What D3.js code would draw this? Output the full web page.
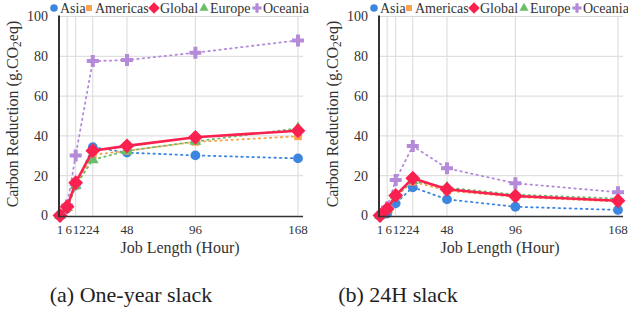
<!DOCTYPE html>
<html><head><meta charset="utf-8"><script src="https://cdn.jsdelivr.net/npm/d3@7"></script></head>
<body style="margin:0">
<div id="c"></div>
<script>
// Job lengths (hours) and y ticks
const jobLengths = [1, 6, 12, 24, 48, 96, 168];
const yTicks = [0, 20, 40, 60, 80, 100];
const regions = ['Asia', 'Americas', 'Global', 'Europe', 'Oceania'];

// (a) One-year slack
const yearAsia     = [0, 3.5, 15, 34.3, 31.6, 30.2, 28.7];
const yearAmericas = [0, 3.8, 15, 30.5, 32.5, 37, 39.8];
const yearGlobal   = [0, 4.4, 16.5, 32.6, 35, 39.3, 42.6];
const yearEurope   = [0, 4, 15, 28, 32.5, 37.2, 43.8];
const yearOceania  = [0, 5, 30.2, 77.6, 78.1, 81.8, 88];

// (b) 24H slack
const dayAsia     = [0, 1, 6.1, 14.2, 8.1, 4.4, 2.8];
const dayAmericas = [0, 3, 9.5, 17, 12.5, 9.3, 7];
const dayGlobal   = [0, 3.3, 10.1, 18.7, 13.2, 9.8, 7.4];
const dayEurope   = [0, 3, 10, 17.5, 14, 10.5, 8.5];
const dayOceania  = [0, 4, 17.8, 34.9, 23.7, 16.2, 11.7];

const captions = ['(a) One-year slack', '(b) 24H slack'];

const fam = 'Liberation Serif';

// square diamond (rotated square)
const squareDiamond = {
  draw(ctx, size) {
    const r = Math.sqrt(size / 2);
    ctx.moveTo(0, -r); ctx.lineTo(r, 0); ctx.lineTo(0, r); ctx.lineTo(-r, 0); ctx.closePath();
  }
};

const styles = {
  Asia:     { color: '#3c86e0', shape: d3.symbolCircle, size: 75, dash: '1.5,4', width: 1.8 },
  Americas: { color: '#fba44d', shape: d3.symbolSquare, size: 60, dash: '1.5,4', width: 1.8 },
  Global:   { color: '#fa2150', shape: squareDiamond, size: 110, dash: null, width: 2.6 },
  Europe:   { color: '#6cbd6a', shape: d3.symbolTriangle, size: 60, dash: '1.5,4', width: 1.8 },
  Oceania:  { color: '#b48ad9', shape: d3.symbolCross, size: 80, dash: '1.5,4', width: 1.8 }
};

// legend marker positions (px from panel left)
const legendX = [54, 89, 154, 204, 257];

const panels = [
  { offset: 0, series: [yearAsia, yearAmericas, yearGlobal, yearEurope, yearOceania] },
  { offset: 320, series: [dayAsia, dayAmericas, dayGlobal, dayEurope, dayOceania] }
];

const svg = d3.select('#c').append('svg').attr('width', 628).attr('height', 313);

function txt(sel, size) {
  return sel.append('text')
    .attr('font-size', size)
    .style('font-family', `"${fam}"`)
    .attr('fill', '#333');
}

// drawing order: Asia first, Global on top
const drawOrder = ['Asia', 'Americas', 'Europe', 'Oceania', 'Global'];

panels.forEach((p, pi) => {
  const g = svg.append('g').attr('transform', `translate(${p.offset},0)`);
  const x = d3.scaleLinear().domain([1, 168]).range([60, 298]);
  const y = d3.scaleLinear().domain([0, 100]).range([215.5, 16.5]);

  // gridlines
  g.append('g').selectAll('line')
    .data(yTicks.slice(1))
    .join('line')
    .attr('x1', 60).attr('x2', 303)
    .attr('y1', d => y(d)).attr('y2', d => y(d))
    .attr('stroke', '#d9d9d9').attr('stroke-width', 1);
  g.append('g').selectAll('line')
    .data(jobLengths.slice(1))
    .join('line')
    .attr('x1', d => x(d)).attr('x2', d => x(d))
    .attr('y1', y(0)).attr('y2', y(100))
    .attr('stroke', '#d9d9d9').attr('stroke-width', 1);

  // y tick labels
  yTicks.forEach(d => {
    txt(g, 14)
      .attr('x', 48).attr('y', y(d))
      .attr('dy', '0.35em')
      .attr('text-anchor', 'end')
      .text(d);
  });

  // x tick labels
  jobLengths.forEach(d => {
    txt(g, 13)
      .attr('x', x(d) + (d === 1 ? 0 : d === 6 ? 1.5 : d === 12 ? 3.5 : 0))
      .attr('y', 234)
      .attr('text-anchor', 'middle')
      .text(d);
  });

  // series
  drawOrder.forEach(name => {
    const idx = regions.indexOf(name);
    const vals = p.series[idx];
    const st = styles[name];
    const pts = jobLengths.map((h, i) => [x(h), y(vals[i])]);
    g.append('path')
      .attr('d', d3.line()(pts))
      .attr('fill', 'none')
      .attr('stroke', st.color)
      .attr('stroke-width', st.width)
      .attr('stroke-dasharray', st.dash)
      .attr('stroke-linecap', 'round');
    g.append('g').selectAll('path')
      .data(pts)
      .join('path')
      .attr('transform', d => `translate(${d[0]},${d[1]})`)
      .attr('d', d3.symbol().type(st.shape).size(st.size))
      .attr('fill', st.color);
  });

  // axes lines
  g.append('line')
    .attr('x1', 59).attr('x2', 59)
    .attr('y1', y(100) - 1).attr('y2', y(0) + 1)
    .attr('stroke', '#333').attr('stroke-width', 2);
  g.append('line')
    .attr('x1', 58).attr('x2', 303)
    .attr('y1', y(0) + 1).attr('y2', y(0) + 1)
    .attr('stroke', '#333').attr('stroke-width', 1.6);

  // y title
  const yt = txt(g, 16)
    .attr('transform', 'translate(18,114) rotate(-90)')
    .attr('text-anchor', 'middle');
  yt.append('tspan').text('Carbon Reduction (g.CO');
  yt.append('tspan').attr('font-size', 11.5).attr('dy', 3).text('2');
  yt.append('tspan').attr('dy', -3).text('eq)');

  // x title
  txt(g, 16)
    .attr('x', 180).attr('y', 253)
    .attr('text-anchor', 'middle')
    .text('Job Length (Hour)');

  // legend
  regions.forEach((name, i) => {
    const st = styles[name];
    g.append('path')
      .attr('transform', `translate(${legendX[i]},8)`)
      .attr('d', d3.symbol().type(st.shape).size(st.size * 0.6))
      .attr('fill', st.color);
    txt(g, 14)
      .attr('x', legendX[i] + 6).attr('y', 8)
      .attr('dy', '0.35em')
      .text(name);
  });

  // caption
  txt(svg, 22)
    .attr('x', p.offset + (pi === 0 ? 131 : 78))
    .attr('y', 302)
    .attr('text-anchor', 'middle')
    .attr('fill', '#222')
    .text(captions[pi]);
});
</script>
</body>
</html>
